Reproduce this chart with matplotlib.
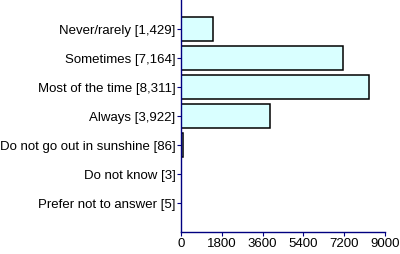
import numpy as np
import matplotlib.pyplot as plt

plt.rcParams['font.family'] = ['Liberation Sans', 'DejaVu Sans']

# survey answers and counts
labels = ["Never/rarely [1,429]", "Sometimes [7,164]", "Most of the time [8,311]",
          "Always [3,922]", "Do not go out in sunshine [86]", "Do not know [3]",
          "Prefer not to answer [5]"]
counts = [1429, 7164, 8311, 3922, 86, 3, 5]
xticks = [0, 1800, 3600, 5400, 7200, 9000]

fig = plt.figure(figsize=(4, 2.54), dpi=100)
ax = fig.add_axes([0.4525, 0.0866, 0.51, 0.9134])

ypos = np.arange(len(counts))
ax.barh(ypos, counts, height=0.86, color="#d9ffff", edgecolor="black", linewidth=1.1)

ax.set_ylim(7, -1)
ax.set_xlim(0, 9000)
ax.set_yticks(ypos)
ax.set_yticklabels(labels, fontsize=9.5)
ax.set_xticks(xticks)
ax.set_xticklabels([str(v) for v in xticks], fontsize=9.5)

for s in ["top", "right"]:
    ax.spines[s].set_visible(False)
for s in ["left", "bottom"]:
    ax.spines[s].set_color("navy")
    ax.spines[s].set_linewidth(1.0)
ax.tick_params(axis="both", colors="navy", length=3, width=0.8, labelcolor="black", pad=1)

fig.savefig("out.png", dpi=100)
